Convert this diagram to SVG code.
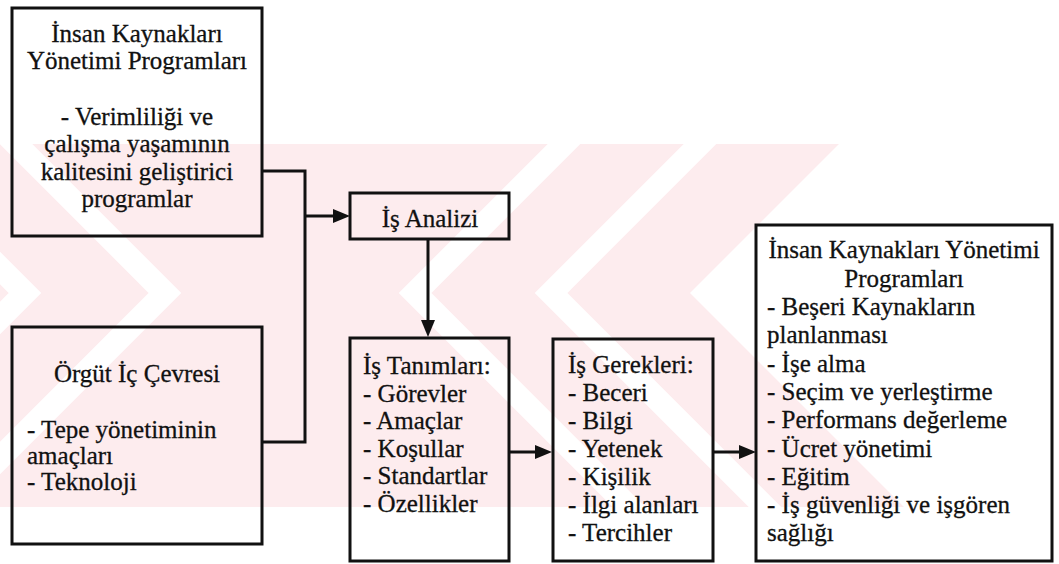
<svg xmlns="http://www.w3.org/2000/svg" width="1059" height="564" viewBox="0 0 1059 564">
  <style>
    .box { fill: none; stroke: #111; stroke-width: 3; }
    .line { fill: none; stroke: #111; stroke-width: 3; }
    .t { font-family: "Liberation Serif", "Times New Roman", serif; font-size: 25px; fill: #111; stroke: #111; stroke-width: 0.3px; }
    .c { text-anchor: middle; }
    .wm { fill: none; stroke: #fff; stroke-width: 23; stroke-linejoin: miter; }
  </style>
  <defs>
    <marker id="arr" markerUnits="userSpaceOnUse" markerWidth="17" markerHeight="14" refX="9" refY="7" orient="auto">
      <path d="M0,0 L17,7 L0,14 z" fill="#111"/>
    </marker>
    <clipPath id="wmclip">
      <rect x="0" y="144" width="904" height="363"/>
    </clipPath>
  </defs>
  <rect x="0" y="0" width="1059" height="564" fill="#fff"/>
  <g id="watermark" clip-path="url(#wmclip)">
    <rect x="0" y="144" width="904" height="363" fill="#fdecee"/>
    <polyline class="wm" points="585,123 415,293 645,523"/>
    <polyline class="wm" points="721,123 551,293 781,523"/>
    <polyline class="wm" points="-5,123 165,293 -65,523"/>
    <polyline class="wm" points="-145,123 25,293 -205,523"/>
    <polygon points="690,293 839,144 904,144 904,507" fill="#fff"/>
  </g>
  <g id="connectors">
    <polyline class="line" points="262,171 305,171 305,442 262,442"/>
    <line class="line" x1="305" y1="216" x2="342" y2="216" marker-end="url(#arr)"/>
    <line class="line" x1="428" y1="239" x2="428" y2="329" marker-end="url(#arr)"/>
    <line class="line" x1="509" y1="452" x2="544" y2="452" marker-end="url(#arr)"/>
    <line class="line" x1="713" y1="452" x2="748" y2="452" marker-end="url(#arr)"/>
  </g>
  <g id="ik-programlari-1">
    <rect class="box" x="12" y="8" width="250" height="228"/>
    <text class="t c" x="137" y="42">İnsan Kaynakları</text>
    <text class="t c" x="137" y="69">Yönetimi Programları</text>
    <text class="t c" x="137" y="125">- Verimliliği ve</text>
    <text class="t c" x="137" y="152">çalışma yaşamının</text>
    <text class="t c" x="137" y="180">kalitesini geliştirici</text>
    <text class="t c" x="137" y="207">programlar</text>
  </g>
  <g id="orgut-ic-cevresi">
    <rect class="box" x="12" y="327" width="250" height="217"/>
    <text class="t c" x="137" y="382">Örgüt İç Çevresi</text>
    <text class="t" x="27" y="438">- Tepe yönetiminin</text>
    <text class="t" x="27" y="464">amaçları</text>
    <text class="t" x="27" y="490">- Teknoloji</text>
  </g>
  <g id="is-analizi">
    <rect class="box" x="350" y="193" width="159" height="46"/>
    <text class="t c" x="430" y="227">İş Analizi</text>
  </g>
  <g id="is-tanimlari">
    <rect class="box" x="350" y="338" width="159" height="223"/>
    <text class="t" x="363" y="374">İş Tanımları:</text>
    <text class="t" x="363" y="402">- Görevler</text>
    <text class="t" x="363" y="429">- Amaçlar</text>
    <text class="t" x="363" y="457">- Koşullar</text>
    <text class="t" x="363" y="484">- Standartlar</text>
    <text class="t" x="363" y="512">- Özellikler</text>
  </g>
  <g id="is-gerekleri">
    <rect class="box" x="553" y="339" width="160" height="222"/>
    <text class="t" x="568" y="373">İş Gerekleri:</text>
    <text class="t" x="568" y="401">- Beceri</text>
    <text class="t" x="568" y="429">- Bilgi</text>
    <text class="t" x="568" y="457">- Yetenek</text>
    <text class="t" x="568" y="485">- Kişilik</text>
    <text class="t" x="568" y="513">- İlgi alanları</text>
    <text class="t" x="568" y="541">- Tercihler</text>
  </g>
  <g id="ik-programlari-2">
    <rect class="box" x="756" y="225" width="296" height="336"/>
    <text class="t c" x="904" y="258">İnsan Kaynakları Yönetimi</text>
    <text class="t c" x="904" y="287">Programları</text>
    <text class="t" x="767" y="315">- Beşeri Kaynakların</text>
    <text class="t" x="767" y="343">planlanması</text>
    <text class="t" x="767" y="372">- İşe alma</text>
    <text class="t" x="767" y="400">- Seçim ve yerleştirme</text>
    <text class="t" x="767" y="428">- Performans değerleme</text>
    <text class="t" x="767" y="457">- Ücret yönetimi</text>
    <text class="t" x="767" y="485">- Eğitim</text>
    <text class="t" x="767" y="513">- İş güvenliği ve işgören</text>
    <text class="t" x="767" y="541">sağlığı</text>
  </g>
</svg>
